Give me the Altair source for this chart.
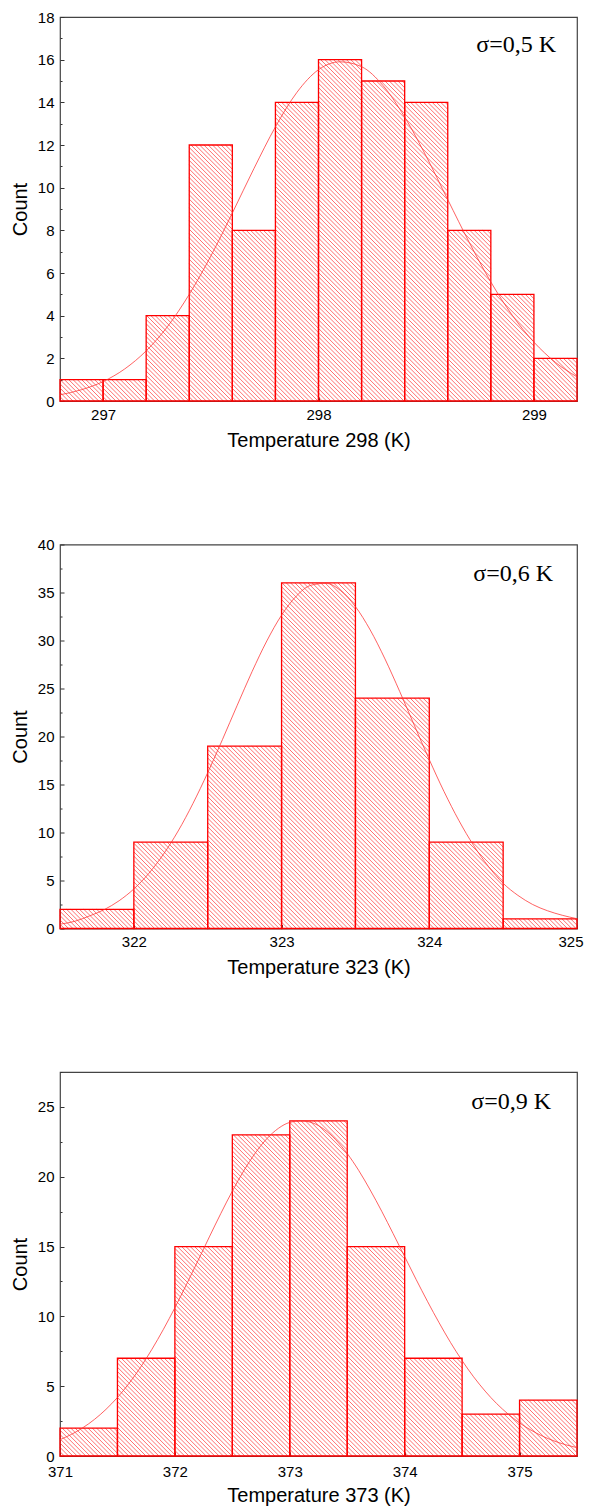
import altair as alt
import pandas as pd

W, H = 517, 384
STEP = 4.3  # hatch spacing (px)

# ---------------- data ----------------
# Panel 1 : 298 K
t298_edges = [296.8, 297.0, 297.2, 297.4, 297.6, 297.8, 298.0, 298.2, 298.4, 298.6, 298.8, 299.0, 299.2]
t298_counts = [1, 1, 4, 12, 8, 14, 16, 15, 14, 8, 5, 2]
t298_fit_x = [296.8, 296.9, 297.0, 297.1, 297.2, 297.3, 297.4, 297.5, 297.6, 297.7, 297.8, 297.9,
              298.0, 298.1, 298.2, 298.3, 298.4, 298.5, 298.6, 298.7, 298.8, 298.9, 299.0, 299.1, 299.2]
t298_fit_y = [0.29, 0.53, 0.91, 1.50, 2.35, 3.50, 5.00, 6.79, 8.81, 10.89, 12.85, 14.47,
              15.53, 15.9, 15.67, 14.78, 13.31, 11.47, 9.44, 7.43, 5.58, 4.01, 2.76, 1.81, 1.13]
t298_xticks = [297, 297.5, 298, 298.5, 299]
t298_yticks = [0, 1, 2, 3, 4, 5, 6, 7, 8, 9, 10, 11, 12, 13, 14, 15, 16, 17, 18]

# Panel 2 : 323 K
t323_edges = [321.5, 322.0, 322.5, 323.0, 323.5, 324.0, 324.5, 325.0]
t323_counts = [2, 9, 19, 36, 24, 9, 1]
t323_fit_x = [321.5, 321.6, 321.7, 321.8, 321.9, 322.0, 322.1, 322.2, 322.3, 322.4, 322.5, 322.6,
              322.7, 322.8, 322.9, 323.0, 323.1, 323.2, 323.3, 323.4, 323.5, 323.6, 323.7, 323.8,
              323.9, 324.0, 324.1, 324.2, 324.3, 324.4, 324.5, 324.6, 324.7, 324.8, 324.9, 325.0]
t323_fit_y = [0.45, 0.75, 1.31, 1.97, 2.89, 4.12, 5.72, 7.73, 10.16, 13.02, 16.23, 19.69,
              23.26, 26.75, 29.95, 32.64, 34.63, 35.76, 35.96, 35.19, 33.53, 31.10, 28.08, 24.68,
              21.12, 17.59, 14.26, 11.26, 8.65, 6.47, 4.71, 3.45, 2.50, 1.85, 1.38, 1.02]
t323_xticks = [322, 322.5, 323, 323.5, 324, 324.5, 325]
t323_yticks = [0, 2.5, 5, 7.5, 10, 12.5, 15, 17.5, 20, 22.5, 25, 27.5, 30, 32.5, 35, 37.5, 40]

# Panel 3 : 373 K
t373_edges = [371.0, 371.5, 372.0, 372.5, 373.0, 373.5, 374.0, 374.5, 375.0, 375.5]
t373_counts = [2, 7, 15, 23, 24, 15, 7, 3, 4]
t373_fit_x = [371.0, 371.1, 371.2, 371.3, 371.4, 371.5, 371.6, 371.7, 371.8, 371.9, 372.0, 372.1,
              372.2, 372.3, 372.4, 372.5, 372.6, 372.7, 372.8, 372.9, 373.0, 373.1, 373.2, 373.3,
              373.4, 373.5, 373.6, 373.7, 373.8, 373.9, 374.0, 374.1, 374.2, 374.3, 374.4, 374.5,
              374.6, 374.7, 374.8, 374.9, 375.0, 375.1, 375.2, 375.3, 375.4, 375.5]
t373_fit_y = [1.17, 1.55, 2.03, 2.62, 3.34, 4.19, 5.19, 6.34, 7.64, 9.07, 10.62, 12.27,
              13.97, 15.69, 17.37, 18.97, 20.43, 21.70, 22.72, 23.46, 23.89, 24.0, 23.85, 23.39,
              22.65, 21.66, 20.45, 19.05, 17.53, 15.92, 14.28, 12.64, 11.05, 9.54, 8.12, 6.83,
              5.67, 4.65, 3.76, 3.01, 2.37, 1.85, 1.42, 1.08, 0.81, 0.60]
t373_xticks = [371, 371.5, 372, 372.5, 373, 373.5, 374, 374.5, 375, 375.5]
t373_yticks = [0, 2.5, 5, 7.5, 10, 12.5, 15, 17.5, 20, 22.5, 25, 27.5]

FONT = "Liberation Sans"


def make_axis(vals, major_step, title, orient, title_pad, label_pad=6, flush=False):
    test = f"abs(datum.value / {major_step} - round(datum.value / {major_step})) < 0.001"
    if flush:
        extra = {"labelFlush": True, "labelFlushOffset": 6}
    else:
        extra = {"labelFlush": False}
    return alt.Axis(
        values=vals, title=title, orient=orient, grid=False, domain=False, offset=-4,
        format="d",
        tickSize=4, tickColor="#333333", tickWidth=1,
        tickDash=alt.condition(test, alt.value([4, 0]), alt.value([0, 2, 2, 4])),
        labelExpr=f"({test}) ? datum.label : ''",
        labelFont=FONT, labelFontSize=15, labelColor="black", labelPadding=label_pad,
        titleFont=FONT, titleFontSize=20, titleFontWeight="normal", titleColor="black",
        titlePadding=title_pad, **extra,
    )


def panel(edges, counts, fx, fy, xdom, ydom, xticks, yticks, ymajor, xtitle, label,
          lab_right, lab_base, flush=False, xlabel_pad=6, xtitle_pad=8):
    bars = pd.DataFrame({"lo": edges[:-1], "hi": edges[1:], "count": counts})
    fit = pd.DataFrame({"t": fx, "n": fy})
    sx = W / (xdom[1] - xdom[0])
    sy = H / (ydom[1] - ydom[0])
    xsc = alt.Scale(domain=xdom, nice=False, zero=False)
    ysc = alt.Scale(domain=ydom, nice=False, zero=False)
    xax = make_axis(xticks, 1, xtitle, "bottom", xtitle_pad, xlabel_pad, flush)
    yax = make_axis(yticks, ymajor, "Count", "left", 7)

    hatch = (
        alt.Chart(bars)
        .transform_calculate(px0=f"(datum.lo - {xdom[0]}) * {sx}")
        .transform_calculate(px1=f"(datum.hi - {xdom[0]}) * {sx}")
        .transform_calculate(ph=f"datum.count * {sy}")
        .transform_calculate(k=f"sequence(ceil(datum.px0 / {STEP}), floor((datum.px1 + datum.ph) / {STEP}) + 1)")
        .transform_flatten(["k"])
        .transform_calculate(c=f"datum.k * {STEP}")
        .transform_calculate(ax="max(datum.px0, datum.c - datum.ph)")
        .transform_calculate(bx="min(datum.px1, datum.c)")
        .transform_filter("datum.bx > datum.ax + 0.2")
        .transform_calculate(xa=f"{xdom[0]} + datum.ax / {sx}")
        .transform_calculate(ya=f"(datum.c - datum.ax) / {sy}")
        .transform_calculate(xb=f"{xdom[0]} + datum.bx / {sx}")
        .transform_calculate(yb=f"(datum.c - datum.bx) / {sy}")
        .mark_rule(color="#ff2a2a", strokeWidth=0.8, opacity=0.85)
        .encode(
            x=alt.X("xa:Q", scale=xsc, axis=xax), x2="xb:Q",
            y=alt.Y("ya:Q", scale=ysc, axis=yax), y2="yb:Q",
        )
    )
    outline = alt.Chart(bars).mark_rect(
        fill="#ffffff", fillOpacity=0, stroke="#ff0000", strokeWidth=1.3
    ).encode(
        x=alt.X("lo:Q", scale=xsc, axis=xax), x2="hi:Q",
        y=alt.Y("count:Q", scale=ysc, axis=yax), y2=alt.datum(0),
    )
    curve = alt.Chart(fit).mark_line(
        color="#ff3030", strokeWidth=0.9, opacity=0.85, interpolate="monotone"
    ).encode(
        x=alt.X("t:Q", scale=xsc, axis=xax),
        y=alt.Y("n:Q", scale=ysc, axis=yax),
    )
    text = alt.Chart(pd.DataFrame({"s": [label]})).mark_text(
        font="Liberation Serif", fontSize=24, align="right", baseline="alphabetic", color="black"
    ).encode(text="s:N", x=alt.value(W - lab_right), y=alt.value(lab_base))
    return alt.layer(hatch, outline, curve, text).properties(width=W, height=H)


p1 = panel(t298_edges, t298_counts, t298_fit_x, t298_fit_y, [296.8, 299.2], [0, 18],
           t298_xticks, t298_yticks, 2, "Temperature 298 (K)", "σ=0,5 K", 21, 35)
p2 = panel(t323_edges, t323_counts, t323_fit_x, t323_fit_y, [321.5, 325.0], [0, 40],
           t323_xticks, t323_yticks, 5, "Temperature 323 (K)", "σ=0,6 K", 24, 36, flush=True)
p3 = panel(t373_edges, t373_counts, t373_fit_x, t373_fit_y, [371.0, 375.5], [0, 27.5],
           t373_xticks, t373_yticks, 5, "Temperature 373 (K)", "σ=0,9 K", 26, 37,
           xlabel_pad=8.5, xtitle_pad=5.5)

chart = (
    alt.vconcat(alt.vconcat(p1, p2, spacing=85.5), p3, spacing=91)
    .properties(padding={"left": 1, "top": 1, "right": 0, "bottom": 0}, background="white")
    .configure_view(stroke="#444444", strokeWidth=1.2)
)

chart.save("out.html", embed_options={"renderer": "svg", "actions": False})
